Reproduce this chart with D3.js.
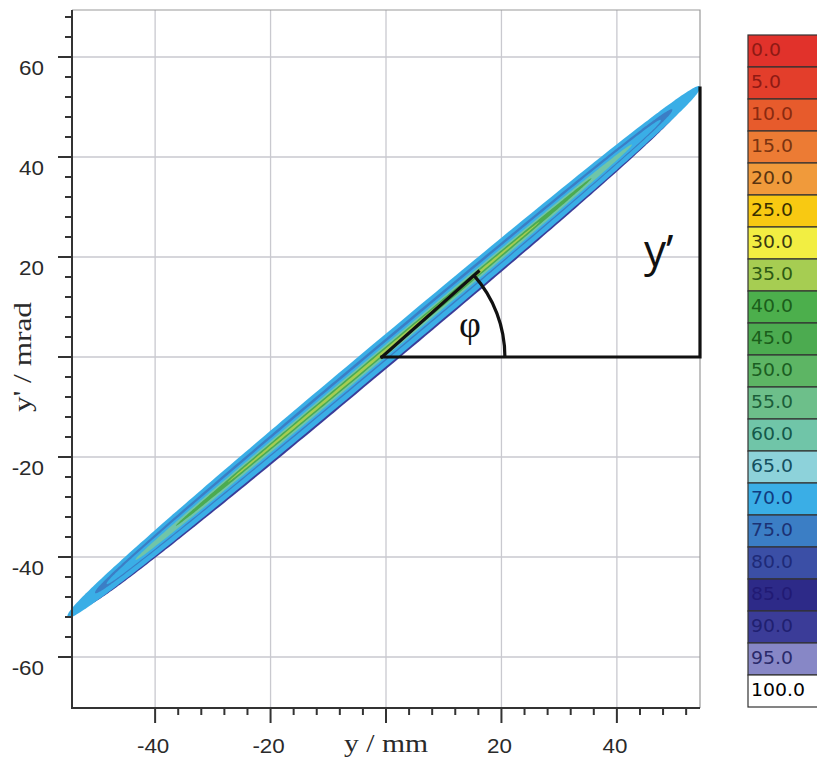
<!DOCTYPE html>
<html><head><meta charset="utf-8">
<script src="https://cdn.jsdelivr.net/npm/d3@7"></script>
<style>body{margin:0;background:#fff}</style>
</head><body>
<svg id="c" width="817" height="779"></svg>
<script>
// ---- axes ----
const xMajorTicks = [-40, -20, 0, 20, 40];
const xTickLabels = ["-40", "-20", "", "20", "40"];
const yMajorTicks = [-60, -40, -20, 0, 20, 40, 60];
const yTickLabels = ["-60", "-40", "-20", "", "20", "40", "60"];
const xMinorTicks = [-36,-32,-28,-24,-16,-12,-8,-4,4,8,12,16,24,28,32,36,44,48,52];
const yMinorTicks = [-56,-52,-48,-44,-36,-32,-28,-24,-16,-12,-8,-4,4,8,12,16,24,28,32,36,44,48,52,56,64,68];
const xTitle = "y / mm";
const yTitle = "y' / mrad";

// ---- legend (percent levels) ----
const legendLabels = ["0.0","5.0","10.0","15.0","20.0","25.0","30.0","35.0","40.0","45.0","50.0","55.0","60.0","65.0","70.0","75.0","80.0","85.0","90.0","95.0","100.0"];
const legendColors = ["#e1322b","#e33e2b","#e75b2c","#ec7b34","#f09a3b","#f8c912","#f2ee42","#a6cd52","#4caf4c","#4cab50","#5db564","#6dbf8a","#70c5a8","#8dd2da","#3aaee6","#3b7ec5","#3b4fa6","#2d2a88","#3b3c98","#8787c6","#ffffff"];
const legendTextColors = ["#8e1a14","#8e1a14","#8a2a10","#7a3410","#5a3410","#3a3000","#3a3a10","#2e5a14","#1b5e1b","#1b5e1b","#1b5e22","#1b5e3a","#14584a","#145060","#103c80","#1c3274","#1e2a78","#211a74","#202070","#2a2a6a","#000000"];

// ---- phase-space density contours (sheared elliptical bands) ----
const contourLevels     = [90,   70,   75,   70,   60,   45,   35];
const contourHalfLength = [52,   54.8, 50,   48,   43,   36,   27];   // mm
const contourHalfWidth  = [3.4,  3.3,  2.2,  1.7,  1.2,  0.75, 0.35]; // mrad
const contourShift      = [-0.4, 0,    0.15, 0,    -0.05, 0,   0];    // mrad
const bandCentre = [-0.4, 1.0];   // mm, mrad
const bandSlope = 0.965;          // mrad per mm

// ---- annotation ----
const phiOrigin = [-0.7, 0.0];
const phiRayEnd = [16.0, 17.1];
const phiArcEndX = 20.6;
const triangleX = 54.4;
const triangleTop = 53.8;

const svg = d3.select("#c");
const x = d3.scaleLinear().domain([-54.4, 54.4]).range([72, 700]);
const y = d3.scaleLinear().domain([-70.2, 69.4]).range([708, 10]);

// grid
svg.append("g").selectAll("line").data(xMajorTicks).join("line")
  .attr("x1", d => x(d)).attr("x2", d => x(d)).attr("y1", 10).attr("y2", 708)
  .attr("stroke", "#c9c9cf").attr("stroke-width", 1.3);
svg.append("g").selectAll("line").data(yMajorTicks).join("line")
  .attr("y1", d => y(d)).attr("y2", d => y(d)).attr("x1", 72).attr("x2", 700)
  .attr("stroke", "#c9c9cf").attr("stroke-width", 1.3);
// frame top/right
svg.append("path").attr("d", `M72,${y.range()[1]}H${x.range()[1]}V708`)
  .attr("fill", "none").attr("stroke", "#9a9a9a").attr("stroke-width", 1.2);

// contours
const bandLine = d3.line().x(d => x(d[0])).y(d => y(d[1])).curve(d3.curveLinearClosed);
const N = 360, pw = 0.8;
contourLevels.forEach((lv, i) => {
  const a = contourHalfLength[i], b = contourHalfWidth[i], sh = contourShift[i];
  const pts = d3.range(N).map(j => {
    const t = j / N * 2 * Math.PI;
    const c = Math.cos(t), s = Math.sin(t);
    const u = Math.sign(c) * Math.pow(Math.abs(c), pw) * a;
    const v = Math.sign(s) * Math.pow(Math.abs(s), pw) * b;
    return [bandCentre[0] + u, bandCentre[1] + sh + bandSlope * u + v];
  });
  svg.append("path").attr("d", bandLine(pts))
    .attr("fill", legendColors[legendLabels.indexOf(lv.toFixed(1))])
    .attr("stroke", "none");
});

// axes lines + ticks
const axisCol = "#333";
svg.append("line").attr("x1", 72).attr("x2", 72).attr("y1", 10).attr("y2", 708).attr("stroke", axisCol).attr("stroke-width", 2);
svg.append("line").attr("x1", 71).attr("x2", 700).attr("y1", 708).attr("y2", 708).attr("stroke", axisCol).attr("stroke-width", 2);

svg.append("g").selectAll("line").data(yMajorTicks).join("line")
  .attr("x1", 58).attr("x2", 72).attr("y1", d => y(d)).attr("y2", d => y(d)).attr("stroke", axisCol).attr("stroke-width", 2);
svg.append("g").selectAll("line").data(yMinorTicks).join("line")
  .attr("x1", 65).attr("x2", 72).attr("y1", d => y(d)).attr("y2", d => y(d)).attr("stroke", axisCol).attr("stroke-width", 2);
svg.append("g").selectAll("line").data(xMajorTicks).join("line")
  .attr("y1", 708).attr("y2", 723).attr("x1", d => x(d)).attr("x2", d => x(d)).attr("stroke", axisCol).attr("stroke-width", 2);
svg.append("g").selectAll("line").data(xMinorTicks).join("line")
  .attr("y1", 708).attr("y2", 715).attr("x1", d => x(d)).attr("x2", d => x(d)).attr("stroke", axisCol).attr("stroke-width", 2);

// tick labels
svg.append("g").selectAll("text").data(yMajorTicks).join("text")
  .attr("transform", d => `translate(44,${y(d) + 18}) scale(1.12,1)`)
  .attr("text-anchor", "end")
  .attr("font-family", "Liberation Sans, Arial, sans-serif").attr("font-size", 20).attr("fill", "#2a2a2a")
  .text((d, i) => yTickLabels[i]);
svg.append("g").selectAll("text").data(xMajorTicks).join("text")
  .attr("transform", d => `translate(${x(d) - 2},753) scale(1.12,1)`)
  .attr("text-anchor", "middle")
  .attr("font-family", "Liberation Sans, Arial, sans-serif").attr("font-size", 20).attr("fill", "#2a2a2a")
  .text((d, i) => xTickLabels[i]);

// axis titles
svg.append("text").attr("x", 386).attr("y", 752).attr("text-anchor", "middle")
  .attr("font-family", "Liberation Serif, Times New Roman, serif").attr("font-size", 25).attr("fill", "#2a2a2a")
  .attr("textLength", 84).attr("lengthAdjust", "spacingAndGlyphs").text(xTitle);
svg.append("text").attr("transform", `translate(31,${y(0)}) rotate(-90)`).attr("text-anchor", "middle")
  .attr("font-family", "Liberation Serif, Times New Roman, serif").attr("font-size", 25).attr("fill", "#2a2a2a")
  .attr("textLength", 110).attr("lengthAdjust", "spacingAndGlyphs").text(yTitle);

// annotation
const ann = svg.append("g").attr("stroke", "#111").attr("stroke-width", 3.2).attr("fill", "none").attr("stroke-linecap", "square");
ann.append("path").attr("d", `M${x(phiOrigin[0])},${y(phiOrigin[1])}H${x(triangleX)}V${y(triangleTop)}`);
ann.append("line").attr("x1", x(phiOrigin[0])).attr("y1", y(phiOrigin[1])).attr("x2", x(phiRayEnd[0])).attr("y2", y(phiRayEnd[1]));
const ox = x(phiOrigin[0]), oy = y(phiOrigin[1]);
const r = x(phiArcEndX) - ox;
const ang = Math.atan2(oy - y(phiRayEnd[1]), x(phiRayEnd[0]) - ox);
ann.append("path").attr("d", d3.arc()({innerRadius: r, outerRadius: r, startAngle: Math.PI / 2 - ang, endAngle: Math.PI / 2}))
  .attr("transform", `translate(${ox},${oy})`);
svg.append("text").attr("x", 470).attr("y", 337).attr("text-anchor", "middle")
  .attr("font-family", "Liberation Serif, Times New Roman, serif").attr("font-size", 38).attr("fill", "#111").text("φ");
svg.append("text").attr("x", 644).attr("y", 266)
  .attr("font-family", "Open Sans, Liberation Sans, sans-serif").attr("font-size", 44).attr("fill", "#111").text("y’");

// legend
const lg = svg.append("g");
const cellH = 32, lx = 748, ly = 35;
legendLabels.forEach((lab, i) => {
  lg.append("rect").attr("x", lx).attr("y", ly + i * cellH).attr("width", 80).attr("height", cellH)
    .attr("fill", legendColors[i]).attr("stroke", "#333").attr("stroke-width", 1.2);
  lg.append("text").attr("x", lx + 3).attr("y", ly + i * cellH + 21)
    .attr("font-family", "DejaVu Sans, sans-serif").attr("font-size", 18).attr("fill", legendTextColors[i])
    .attr("textLength", lab.length === 5 ? 54 : (lab.length === 4 ? 42 : 30)).attr("lengthAdjust", "spacingAndGlyphs")
    .text(lab);
});
</script>
</body></html>
